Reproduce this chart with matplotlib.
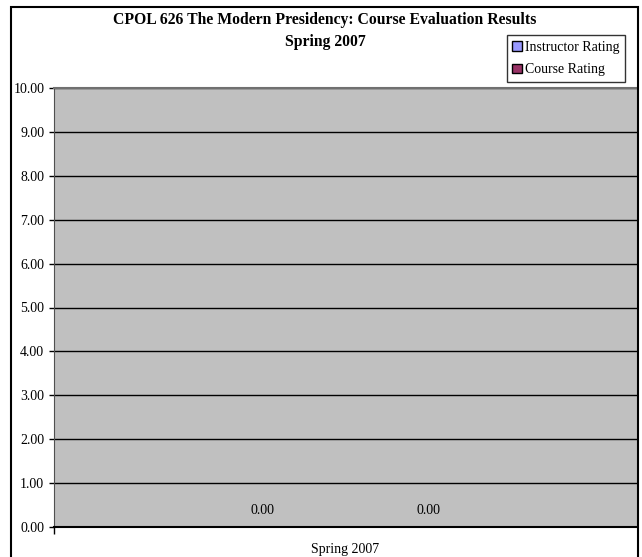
import matplotlib
matplotlib.use("Agg")
import matplotlib.pyplot as plt
from matplotlib.patches import Rectangle, Patch

categories = ["Spring 2007"]
series_names = ["Instructor Rating", "Course Rating"]
instructor = [0.0]
course = [0.0]
yticks = [0, 1, 2, 3, 4, 5, 6, 7, 8, 9, 10]

plt.rcParams['font.family'] = ['Liberation Serif', 'DejaVu Serif']

W, H = 642, 557
fig = plt.figure(figsize=(W / 100, H / 100), dpi=100)
fig.patch.set_facecolor('white')
# outer chart border
fig.patches.append(Rectangle((11 / W, -0.01), (638 - 11) / W, (H - 7) / H + 0.01,
                             transform=fig.transFigure, fill=False, edgecolor='black',
                             linewidth=1.5))

L, R, T, B = 54, 637, 88, 527
ax = fig.add_axes([L / W, 1 - B / H, (R - L) / W, (B - T) / H])
ax.set_facecolor('#C0C0C0')
bw = 1 / 3.5
x0 = 0
ax.bar([x0 - bw / 2], instructor, width=bw, color='#9999FF', edgecolor='black')
ax.bar([x0 + bw / 2], course, width=bw, color='#993366', edgecolor='black')
for x, v in [(x0 - bw / 2, instructor[0]), (x0 + bw / 2, course[0])]:
    ax.text(x, v + 0.37, f"{v:.2f}", ha='center', va='center', fontsize=10)

ax.set_xlim(-0.5, 0.5)
ax.set_ylim(0, 10)
ax.set_yticks(yticks)
ax.set_yticklabels([f"{t:.2f}" for t in yticks], fontsize=10)
ax.yaxis.grid(True, color='black', linewidth=1.0)
ax.set_axisbelow(True)
ax.set_xticks([-0.5])
ax.set_xticklabels([""])
ax.tick_params(axis='x', length=5, width=1, direction='out')
ax.tick_params(axis='y', length=3.5, width=1, direction='out', pad=3.5)
ax.text(0, -(549 - B) / ((B - T) / 10), categories[0], ha='center', va='center', fontsize=10)
ax.spines['right'].set_visible(False)
ax.spines['top'].set_color('#707070')
ax.spines['top'].set_linewidth(1.5)
ax.spines['left'].set_color('#505050')
ax.spines['bottom'].set_color('black')
ax.spines['bottom'].set_linewidth(1.5)

fig.text(325 / W, 1 - 20 / H, "CPOL 626 The Modern Presidency: Course Evaluation Results",
         ha='center', va='center', fontsize=11.3, fontweight='bold')
fig.text(325 / W, 1 - 42 / H, "Spring 2007", ha='center', va='center', fontsize=11.3,
         fontweight='bold')

handles = [Patch(facecolor='#9999FF', edgecolor='black', label=series_names[0]),
           Patch(facecolor='#993366', edgecolor='black', label=series_names[1])]
leg = fig.legend(handles=handles, loc='upper right', bbox_to_anchor=(625 / W, 1 - 35 / H),
                 fontsize=10, frameon=True, fancybox=False, handlelength=0.7, handleheight=0.7,
                 handletextpad=0.2, borderpad=0.4, labelspacing=0.7, borderaxespad=0)
leg.get_frame().set_edgecolor('black')
leg.get_frame().set_linewidth(1)

fig.savefig("out.png", dpi=100)
